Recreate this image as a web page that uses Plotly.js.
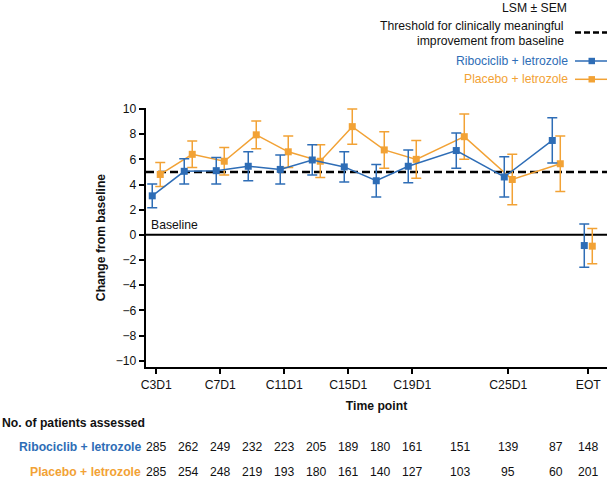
<!DOCTYPE html>
<html>
<head>
<meta charset="utf-8">
<script src="https://cdn.plot.ly/plotly-3.0.1.min.js"></script>
<style>html,body{margin:0;padding:0;background:#fff}#chart{width:610px;height:482px}</style>
</head>
<body>
<div id="chart"></div>
<script>
// ---- data ----
var cycles = [3, 5, 7, 9, 11, 13, 15, 17, 19, 22, 25, 28];
var eotPos = 30;
var tickVals = [3, 7, 11, 15, 19, 25, 30];
var tickLabels = ['C3D1', 'C7D1', 'C11D1', 'C15D1', 'C19D1', 'C25D1', 'EOT'];

var riboMean = [3.1, 5.05, 5.1, 5.45, 5.2, 5.95, 5.4, 4.3, 5.45, 6.7, 4.6, 7.5];
var riboSem  = [0.95, 1.0, 1.05, 1.15, 1.15, 1.2, 1.2, 1.3, 1.3, 1.4, 1.6, 1.8];
var riboEotMean = [-0.85];
var riboEotSem  = [1.72];

var placMean = [4.8, 6.4, 5.85, 7.95, 6.6, 5.85, 8.6, 6.75, 6.0, 7.8, 4.4, 5.65];
var placSem  = [0.95, 1.05, 1.1, 1.1, 1.25, 1.3, 1.4, 1.45, 1.5, 1.8, 2.0, 2.2];
var placEotMean = [-0.9];
var placEotSem  = [1.4];

var countPos = [3, 5, 7, 9, 11, 13, 15, 17, 19, 22, 25, 28, 30];
var riboN = [285, 262, 249, 232, 223, 205, 189, 180, 161, 151, 139, 87, 148];
var placN = [285, 254, 248, 219, 193, 180, 161, 140, 127, 103, 95, 60, 201];

var threshold = 5;

// ---- style ----
var BLUE = '#2e6db6';
var ORANGE = '#f2a235';
var FONT = 'Liberation Sans, Arial, Helvetica, sans-serif';
var FS = 12.2;
var dodge = 0.25;

// layout geometry (pixels)
var L = 146, R = 3, T = 108, B = 115, W = 610, H = 482;
var pw = W - L - R, ph = H - T - B;
function px(x) { return (x - L) / pw; }
function py(y) { return (H - B - y) / ph; }

function shift(arr, d) { return arr.map(function (v) { return v + d; }); }

var traces = [
  {
    x: shift(cycles, dodge), y: placMean, type: 'scatter', mode: 'lines+markers',
    line: {color: ORANGE, width: 1.5},
    marker: {symbol: 'square', size: 7, color: ORANGE},
    error_y: {type: 'data', array: placSem, visible: true, color: ORANGE, thickness: 1.5, width: 5},
    showlegend: false
  },
  {
    x: [eotPos + dodge], y: placEotMean, type: 'scatter', mode: 'markers',
    marker: {symbol: 'square', size: 7, color: ORANGE},
    error_y: {type: 'data', array: placEotSem, visible: true, color: ORANGE, thickness: 1.5, width: 5},
    showlegend: false
  },
  {
    x: shift(cycles, -dodge), y: riboMean, type: 'scatter', mode: 'lines+markers',
    line: {color: BLUE, width: 1.5},
    marker: {symbol: 'square', size: 7, color: BLUE},
    error_y: {type: 'data', array: riboSem, visible: true, color: BLUE, thickness: 1.5, width: 5},
    showlegend: false
  },
  {
    x: [eotPos - dodge], y: riboEotMean, type: 'scatter', mode: 'markers',
    marker: {symbol: 'square', size: 7, color: BLUE},
    error_y: {type: 'data', array: riboEotSem, visible: true, color: BLUE, thickness: 1.5, width: 5},
    showlegend: false
  }
];

var annotations = [];
function txt(text, x, y, opts) {
  var a = {
    text: text, x: x, y: y, xref: 'paper', yref: 'paper', showarrow: false,
    xanchor: 'right', yanchor: 'middle',
    font: {family: FONT, size: FS, color: '#111'}
  };
  for (var k in opts) a[k] = opts[k];
  annotations.push(a);
}

// legend block
txt('LSM ± SEM', px(569), py(8));
txt('Threshold for clinically meaningful', px(566), py(25.5));
txt('improvement from baseline', px(566), py(41));
txt('Ribociclib + letrozole', px(570), py(61), {font: {family: FONT, size: FS, color: BLUE}});
txt('Placebo + letrozole', px(570), py(79), {font: {family: FONT, size: FS, color: ORANGE}});

// baseline label
annotations.push({
  text: 'Baseline', x: 2.55, y: 0.1, xref: 'x', yref: 'y', showarrow: false,
  xanchor: 'left', yanchor: 'bottom', font: {family: FONT, size: FS, color: '#111'}
});

// table
txt('<b>No. of patients assessed</b>', px(0), py(423), {xanchor: 'left', font: {family: FONT, size: FS, color: '#111'}});
txt('<b>Ribociclib + letrozole</b>', px(143), py(447), {font: {family: FONT, size: FS, color: BLUE}});
txt('<b>Placebo + letrozole</b>', px(143), py(472), {font: {family: FONT, size: FS, color: ORANGE}});
for (var i = 0; i < countPos.length; i++) {
  annotations.push({text: String(riboN[i]), x: countPos[i], y: py(447), xref: 'x', yref: 'paper',
    showarrow: false, xanchor: 'center', yanchor: 'middle', font: {family: FONT, size: FS, color: '#111'}});
  annotations.push({text: String(placN[i]), x: countPos[i], y: py(472), xref: 'x', yref: 'paper',
    showarrow: false, xanchor: 'center', yanchor: 'middle', font: {family: FONT, size: FS, color: '#111'}});
}

var shapes = [
  {type: 'line', xref: 'paper', yref: 'y', x0: 0, x1: 1, y0: threshold, y1: threshold,
   line: {color: '#000', width: 2.5, dash: '8px,4px'}, layer: 'below'},
  {type: 'line', xref: 'paper', yref: 'y', x0: 0, x1: 1, y0: 0, y1: 0,
   line: {color: '#000', width: 2}, layer: 'below'},
  {type: 'line', xref: 'paper', yref: 'paper', x0: px(575), x1: px(607), y0: py(32.5), y1: py(32.5),
   line: {color: '#000', width: 2.5, dash: '6px,3px'}},
  {type: 'line', xref: 'paper', yref: 'paper', x0: px(575), x1: px(607), y0: py(61), y1: py(61),
   line: {color: BLUE, width: 1.5}},
  {type: 'rect', xref: 'paper', yref: 'paper', x0: px(588.5), x1: px(595), y0: py(57.8), y1: py(64.2),
   fillcolor: BLUE, line: {width: 0}},
  {type: 'line', xref: 'paper', yref: 'paper', x0: px(575), x1: px(607), y0: py(79.3), y1: py(79.3),
   line: {color: ORANGE, width: 1.5}},
  {type: 'rect', xref: 'paper', yref: 'paper', x0: px(588.5), x1: px(595), y0: py(76.1), y1: py(82.5),
   fillcolor: ORANGE, line: {width: 0}}
];

var layout = {
  width: W, height: H,
  margin: {l: L, r: R, t: T, b: B, pad: 0},
  paper_bgcolor: '#fff', plot_bgcolor: '#fff',
  font: {family: FONT, size: FS, color: '#111'},
  showlegend: false,
  xaxis: {
    range: [2.36, 31.17], tickmode: 'array', tickvals: tickVals, ticktext: tickLabels,
    showgrid: false, zeroline: false, showline: true, linecolor: '#000', linewidth: 2.2,
    ticks: 'outside', ticklen: 5, tickwidth: 2, tickcolor: '#000',
    tickfont: {family: FONT, size: FS, color: '#111'},
    title: {text: '<b>Time point</b>', standoff: 11, font: {family: FONT, size: FS, color: '#111'}},
    fixedrange: true
  },
  yaxis: {
    range: [-10.5, 10.08], tickmode: 'linear', tick0: -10, dtick: 2,
    showgrid: false, zeroline: false, showline: true, linecolor: '#000', linewidth: 2.2,
    ticks: 'outside', ticklen: 5, tickwidth: 2, tickcolor: '#000',
    tickfont: {family: FONT, size: FS, color: '#111'},
    title: {text: '<b>Change from baseline</b>', standoff: 8, font: {family: FONT, size: FS, color: '#111'}},
    fixedrange: true
  },
  shapes: shapes,
  annotations: annotations
};

Plotly.newPlot('chart', traces, layout, {displayModeBar: false, staticPlot: true});
</script>
</body>
</html>
